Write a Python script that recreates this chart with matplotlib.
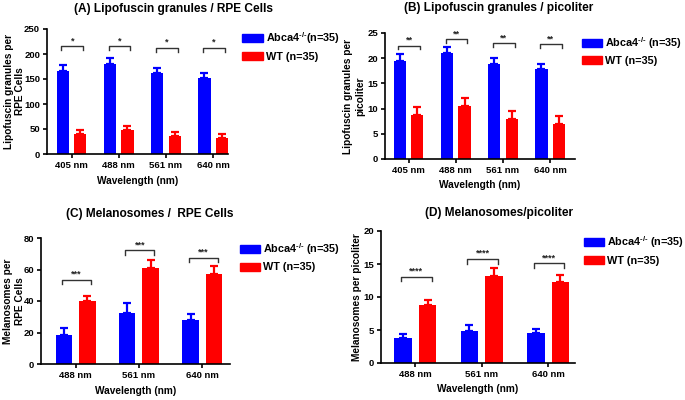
import numpy as np
import matplotlib
matplotlib.use("Agg")
import matplotlib.pyplot as plt
from matplotlib.patches import Patch

plt.rcParams["font.family"] = ["Liberation Sans", "DejaVu Sans"]
plt.rcParams["font.weight"] = "bold"
plt.rcParams["mathtext.fontset"] = "custom"
plt.rcParams["mathtext.rm"] = "Liberation Sans:bold"
plt.rcParams["mathtext.bf"] = "Liberation Sans:bold"

BLUE = "#0000ff"
RED = "#ff0000"

# (A) Lipofuscin granules / RPE cells
a_labels = ["405 nm", "488 nm", "561 nm", "640 nm"]
a_ko = [167, 181, 162, 153]
a_ko_err = [12, 11, 11, 10]
a_wt = [41, 49, 37, 33]
a_wt_err = [7, 8, 7, 7]
a_sig = ["*", "*", "*", "*"]
a_bracket = [216, 216, 213, 213]

# (B) Lipofuscin granules / picoliter
b_labels = ["405 nm", "488 nm", "561 nm", "640 nm"]
b_ko = [19.4, 21.0, 18.9, 17.8]
b_ko_err = [1.5, 1.3, 1.2, 1.1]
b_wt = [8.8, 10.5, 7.9, 7.0]
b_wt_err = [1.5, 1.7, 1.7, 1.5]
b_sig = ["**", "**", "**", "**"]
b_bracket = [22.5, 23.8, 23.0, 22.8]

# (C) Melanosomes / RPE cells
c_labels = ["488 nm", "561 nm", "640 nm"]
c_ko = [18.5, 32.5, 28.0]
c_ko_err = [4.5, 6.5, 4.0]
c_wt = [40.0, 61.0, 57.0]
c_wt_err = [3.0, 5.0, 5.0]
c_sig = ["***", "***", "***"]
c_bracket = [53.5, 72.2, 67.5]

# (D) Melanosomes / picoliter
d_labels = ["488 nm", "561 nm", "640 nm"]
d_ko = [3.8, 4.9, 4.6]
d_ko_err = [0.6, 0.8, 0.5]
d_wt = [8.8, 13.2, 12.3]
d_wt_err = [0.7, 1.2, 1.1]
d_sig = ["****", "****", "****"]
d_bracket = [13.1, 15.8, 15.1]


def draw_panel(fig, rect, labels, ko, ko_err, wt, wt_err, sig, bracket, ymax, ystep,
               xlim, tick_len, ylabel, ylabel_x, legend_xy, ko_label):
    ax = fig.add_axes(rect)
    x = np.arange(len(labels))
    off, width = 0.185, 0.26
    for xs, vals, errs, col in ((x - off, ko, ko_err, BLUE), (x + off, wt, wt_err, RED)):
        ax.bar(xs, vals, width=width, color=col, linewidth=0, zorder=2)
        ax.errorbar(xs, vals, yerr=[np.zeros(len(vals)), errs], fmt="none", ecolor=col,
                    elinewidth=1.6, capsize=2.6, capthick=1.6, zorder=2)
    for i, (s, h) in enumerate(zip(sig, bracket)):
        x1, x2 = x[i] - off - 0.03, x[i] + off + 0.06
        ax.plot([x1, x1, x2, x2], [h - tick_len, h, h, h - tick_len], color="#333333",
                lw=1.0, clip_on=False, zorder=3)
        ax.annotate(s, ((x1 + x2) / 2, h), xytext=(0, 0.5), textcoords="offset points",
                    ha="center", va="bottom", fontsize=6.5, color="#222222")
    ax.set_xlim(*xlim)
    ax.set_ylim(0, ymax)
    ax.set_yticks(np.arange(0, ymax + ystep / 2, ystep))
    ax.set_xticks(x)
    ax.set_xticklabels(labels)
    for sp in ("top", "right"):
        ax.spines[sp].set_visible(False)
    for sp in ("left", "bottom"):
        ax.spines[sp].set_linewidth(1.2)
    ax.tick_params(direction="out", length=3, width=1.2, labelsize=6.8, pad=2)
    ax.set_xlabel("Wavelength (nm)", fontsize=7.3, fontweight="bold", labelpad=4)
    ax.set_ylabel(ylabel, fontsize=7.3, fontweight="bold")
    ax.yaxis.set_label_coords(ylabel_x, 0.5)
    handles = [Patch(color=BLUE, label=ko_label), Patch(color=RED, label="WT (n=35)")]
    fig.legend(handles=handles, loc="upper left", bbox_to_anchor=legend_xy, frameon=False,
               fontsize=7.8, handlelength=1.85, handleheight=0.75, handletextpad=0.3,
               labelspacing=0.5, borderpad=0, borderaxespad=0)
    return ax


fig = plt.figure(figsize=(6.85, 4.0), dpi=100)

draw_panel(fig, [0.0686, 0.615, 0.264, 0.3125], a_labels, a_ko, a_ko_err, a_wt, a_wt_err,
           a_sig, a_bracket, 250, 50, (-0.52, 3.31), 8,
           "Lipofuscin granules per\nRPE Cells", -0.12, (0.354, 0.924),
           r"Abca4$^{\text{-/-}}$(n=35)")
draw_panel(fig, [0.562, 0.6025, 0.277, 0.315], b_labels, b_ko, b_ko_err, b_wt, b_wt_err,
           b_sig, b_bracket, 25, 5, (-0.5, 3.52), 0.75,
           "Lipofuscin granules per\npicoliter", -0.105, (0.849, 0.913),
           r"Abca4$^{\text{-/-}}$ (n=35)")
draw_panel(fig, [0.0599, 0.09, 0.276, 0.315], c_labels, c_ko, c_ko_err, c_wt, c_wt_err,
           c_sig, c_bracket, 80, 20, (-0.545, 2.44), 3,
           "Melanosomes per\nRPE Cells", -0.085, (0.350, 0.397),
           r"Abca4$^{\text{-/-}}$ (n=35)")
draw_panel(fig, [0.556, 0.0925, 0.283, 0.33], d_labels, d_ko, d_ko_err, d_wt, d_wt_err,
           d_sig, d_bracket, 20, 5, (-0.52, 2.40), 0.75,
           "Melanosomes per picoliter", -0.098, (0.852, 0.414),
           r"Abca4$^{\text{-/-}}$ (n=35)")

fig.text(173 / 685, 1 - 9 / 400, "(A) Lipofuscin granules / RPE Cells", ha="center", va="center",
         fontsize=8.6, fontweight="bold")
fig.text(499 / 685, 1 - 8 / 400, "(B) Lipofuscin granules / picoliter", ha="center", va="center",
         fontsize=8.6, fontweight="bold")
fig.text(150 / 685, 1 - 214 / 400, "(C) Melanosomes /  RPE Cells", ha="center", va="center",
         fontsize=8.6, fontweight="bold")
fig.text(499 / 685, 1 - 213 / 400, "(D) Melanosomes/picoliter", ha="center", va="center",
         fontsize=8.6, fontweight="bold")

fig.savefig("out.png", dpi=100)
